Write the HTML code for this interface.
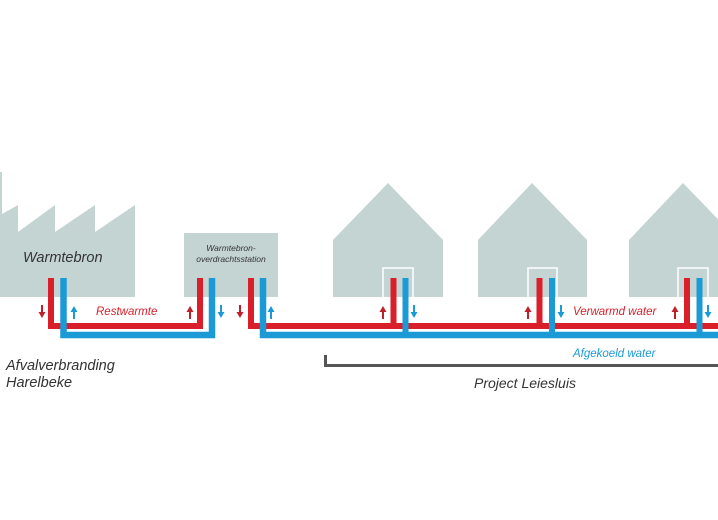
<!DOCTYPE html>
<html><head><meta charset="utf-8"><style>
html,body{margin:0;padding:0;background:#fff;}
svg{display:block;}
text{font-family:"Liberation Sans","DejaVu Sans",sans-serif;font-style:italic;}
</style></head><body>
<svg width="718" height="520" viewBox="0 0 718 520" xmlns="http://www.w3.org/2000/svg">
<g fill="#c4d4d2">
<polygon points="0,172 2,172 2,214 18,205 18,232 55,205 55,232 95,205 95,232 135,205 135,297 0,297"/>
<rect x="184" y="233" width="94" height="64"/>
<polygon points="333,240 388,183 443,240 443,297 333,297"/>
<polygon points="478,240 532,183 587,240 587,297 478,297"/>
<polygon points="629,240 683,183 738,240 738,297 629,297"/>
</g>
<g fill="none" stroke="#fff" stroke-width="1.5">
<polyline points="383,297 383,268 413,268 413,297"/>
<polyline points="528,297 528,268 557,268 557,297"/>
<polyline points="678,297 678,268 708,268 708,297"/>
</g>
<text x="23" y="262" font-size="14.5" fill="#333">Warmtebron</text>
<text x="231" y="251" font-size="8.5" fill="#333" text-anchor="middle">Warmtebron-</text>
<text x="231" y="262" font-size="8.5" fill="#333" text-anchor="middle">overdrachtsstation</text>
<path d="M51,278 V326 H200 V278" fill="none" stroke="#d81f2a" stroke-width="6"/>
<path d="M63.5,278 V335 H212 V278" fill="none" stroke="#1b9ad6" stroke-width="6.5"/>
<path d="M251,278 V326 H718" fill="none" stroke="#d81f2a" stroke-width="6"/>
<path d="M393.5,278 V326 M539.5,278 V326 M687,278 V326" fill="none" stroke="#d81f2a" stroke-width="6"/>
<path d="M263,278 V335 H718" fill="none" stroke="#1b9ad6" stroke-width="6.5"/>
<path d="M405.5,278 V335 M552,278 V335 M699.5,278 V335" fill="none" stroke="#1b9ad6" stroke-width="6"/>
<defs>
<g id="ad"><rect x="-1" y="0" width="2" height="8"/><polygon points="-3.5,7 3.5,7 0,13"/></g>
<g id="au"><rect x="-1" y="5" width="2" height="8"/><polygon points="-3.5,6 3.5,6 0,0"/></g>
</defs>
<g fill="#c0202a">
<use href="#ad" x="42" y="305"/>
<use href="#au" x="190" y="306"/>
<use href="#ad" x="240" y="305"/>
<use href="#au" x="383" y="306"/>
<use href="#au" x="528" y="306"/>
<use href="#au" x="675" y="306"/>
</g>
<g fill="#1b9ad6">
<use href="#au" x="74" y="306"/>
<use href="#ad" x="221" y="305"/>
<use href="#au" x="271" y="306"/>
<use href="#ad" x="414" y="305"/>
<use href="#ad" x="561" y="305"/>
<use href="#ad" x="708" y="305"/>
</g>
<text x="96" y="315" font-size="11.5" fill="#d81f2a">Restwarmte</text>
<text x="573" y="315" font-size="11.5" fill="#d81f2a">Verwarmd water</text>
<text x="573" y="357" font-size="11.5" fill="#1b9ad6">Afgekoeld water</text>
<path d="M325.5,355 V365.5 H718" fill="none" stroke="#555" stroke-width="3"/>
<text x="474" y="388" font-size="14" fill="#333">Project Leiesluis</text>
<text x="6" y="370" font-size="14.5" fill="#333">Afvalverbranding</text>
<text x="6" y="387" font-size="14.5" fill="#333">Harelbeke</text>
</svg>
</body></html>
